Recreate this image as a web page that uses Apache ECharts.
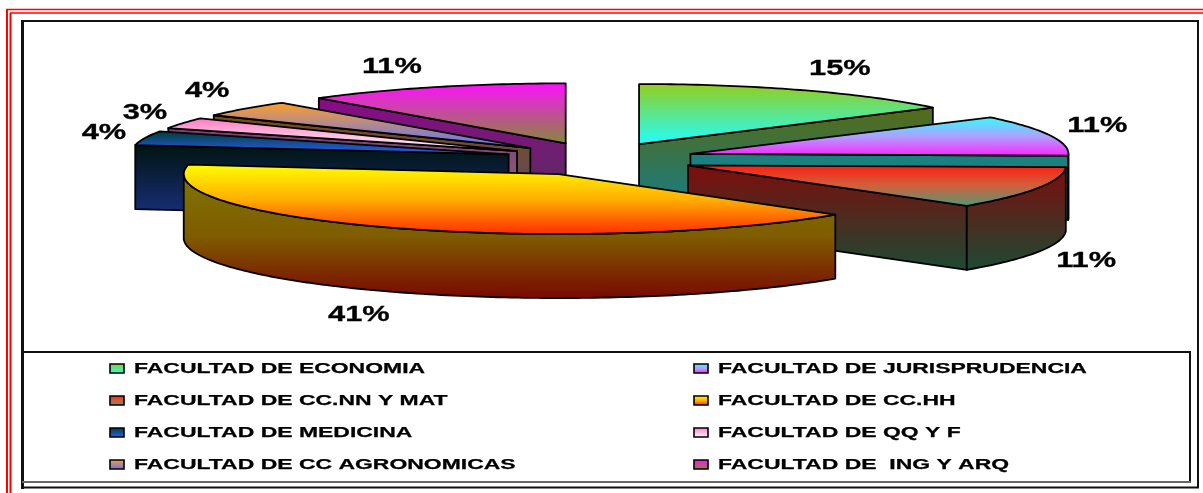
<!DOCTYPE html>
<html>
<head>
<meta charset="utf-8">
<style>html,body{margin:0;padding:0;background:#fff}#c{width:1203px;height:493px}</style>
<script src="https://cdn.jsdelivr.net/npm/echarts@6/dist/echarts.min.js"></script>
</head>
<body>
<div id="c"></div>
<script>
// ---- data ----
const faculties = ['FACULTAD DE ECONOMIA','FACULTAD DE JURISPRUDENCIA','FACULTAD DE CC.NN Y MAT','FACULTAD DE CC.HH',
  'FACULTAD DE MEDICINA','FACULTAD DE QQ Y F','FACULTAD DE CC AGRONOMICAS','FACULTAD DE  ING Y ARQ'];
const shares = [14.6, 10.9, 11.3, 40.7, 3.8, 2.9, 4.4, 11.4];

// ---- styles ----
const topColors = [['#96cc1c','#1effff'],['#30ffff','#b0a0ff','#ff20ff'],['#ff1c10','#d0603c','#4f9a78'],['#ffff00','#ffb000','#ff2a00'],
  ['#003a30','#2a62ff'],['#ff78c0','#ffffff'],['#ffa028','#5c70ff'],['#ff10ff','#858a36']];
const wallColors = [['#566a14','#157e88'],['#1b8080','#1b8080'],['#7e0c0c','#1c4a33'],['#807400','#7f5c00','#7a0800'],
  ['#001410','#1a3080'],['#803c78','#90707a'],['#7a4c10','#5a4a80'],['#8a0a88','#523258']];
const labelOffsets = [[37,-21],[47,-10],[48,73],[-37,87],[-41,-5],[-38,-10],[-38,-18],[-42,-20]];
const sliceNudgeX = [-3, 0, 0, 0, 0, 1, 2, -1];
const sliceRadiusX = [370, 378, 378, 375, 378, 378, 378, 376];

// ---- projection ----
const centerX = 600, centerY = 159, radiusY = 60, depth = 64, explodeX = 95, explodeY = 16.7;
const labelStretch = 1.4, legendStretch = 1.53;
const total = shares.reduce((a, b) => a + b, 0);
const rad = d => d * Math.PI / 180;

let running = 0;
const slices = shares.map((v, i) => {
  const a = running / total * 360; running += v;
  const b = running / total * 360, m = rad((a + b) / 2);
  return {a, b, rx: sliceRadiusX[i], cx: centerX + sliceNudgeX[i] + explodeX * Math.sin(m),
    cy: centerY - explodeY * Math.cos(m), mid: (a + b) / 2};
});
const rank = slices.map((s, i) => i).sort((p, q) => slices[p].cy - slices[q].cy);

const grad = cols => new echarts.graphic.LinearGradient(0, 0, 0, 1,
  cols.map((c, i) => ({offset: i / (cols.length - 1), color: c})));
const pt = (s, deg, h) => [s.cx + s.rx * Math.sin(rad(deg)), s.cy - radiusY * Math.cos(rad(deg)) + (h || 0)];
function arc(s, from, to, h) {
  const out = [], n = Math.max(2, Math.ceil(to - from));
  for (let k = 0; k <= n; k++) out.push(pt(s, from + (to - from) * k / n, h));
  return out;
}
const lineStyle = {stroke: '#000', lineWidth: 1.8, lineJoin: 'round'};
const poly = (points, cols) => ({type: 'polygon', silent: true, shape: {points},
  style: Object.assign({fill: grad(cols)}, lineStyle)});

function renderSlice(i, api) {
  const s = slices[i], kids = [];
  const apex = [s.cx, s.cy], apexB = [s.cx, s.cy + depth];
  const sideFace = deg => {
    const o = pt(s, deg), oB = pt(s, deg, depth);
    kids.push(poly([apex, o, oB, apexB], wallColors[i]));
  };
  if (s.a > 180) sideFace(s.a);
  if (s.b < 180) sideFace(s.b);
  const w0 = Math.max(s.a, 90), w1 = Math.min(s.b, 270);
  if (w1 > w0) kids.push(poly(arc(s, w0, w1).concat(arc(s, w0, w1, depth).reverse()), wallColors[i]));
  kids.push(poly([apex].concat(arc(s, s.a, s.b)), topColors[i]));

  // percentage label
  const m = rad(s.mid), off = labelOffsets[i];
  kids.push({type: 'text', silent: true, scaleX: labelStretch,
    x: s.cx + s.rx * Math.sin(m) + off[0], y: s.cy - radiusY * Math.cos(m) + off[1],
    style: {text: Math.round(shares[i] / total * 100) + '%', fill: '#000', stroke: '#000', lineWidth: 0.3,
      align: 'center', verticalAlign: 'middle', font: 'bold 22px "Liberation Sans", Arial, sans-serif'}});

  // legend row
  const col = i % 2, row = Math.floor(i / 2);
  const lx = col ? 694 : 110, ly = 368.5 + row * 32;
  kids.push({type: 'rect', silent: true, shape: {x: lx, y: ly - 4.5, width: 14, height: 9},
    style: {fill: grad(topColors[i]), stroke: '#000', lineWidth: 1.6}});
  kids.push({type: 'text', silent: true, scaleX: legendStretch, x: lx + 24, y: ly,
    style: {text: faculties[i], fill: '#000', stroke: '#000', lineWidth: 0.25, align: 'left', verticalAlign: 'middle',
      font: 'bold 15px "Liberation Sans", Arial, sans-serif'}});
  return {type: 'group', children: kids};
}

const line = (x1, y1, x2, y2, stroke, lineWidth) => ({type: 'line', silent: true, z: 100,
  shape: {x1, y1, x2, y2}, style: {stroke, lineWidth}});
const frame = [
  line(6, 9.5, 1203, 9.5, '#ff0000', 1.6), line(7, 9, 7, 493, '#ff0000', 2),
  line(10, 13, 1203, 13, '#ff0000', 1.6), line(10.5, 13, 10.5, 493, '#ff0000', 2),
  line(21, 21, 1199, 21, '#111', 2), line(22.5, 20, 22.5, 489, '#111', 3),
  line(1198, 21, 1198, 488, '#111', 2), line(21, 487.5, 1199, 487.5, '#111', 2.2),
  line(22, 352, 1191, 352, '#111', 2), line(1190, 351, 1190, 483, '#111', 2),
  line(22, 482, 1191, 482, '#666', 1.8)
];

const chart = echarts.init(document.getElementById('c'), null, {renderer: 'canvas'});
chart.setOption({
  animation: false,
  backgroundColor: '#fff',
  tooltip: {show: false},
  graphic: frame,
  series: faculties.map((name, i) => ({
    type: 'custom',
    name,
    coordinateSystem: 'none',
    z: 2 + rank.indexOf(i),
    silent: true,
    data: [shares[i]],
    renderItem: (params, api) => renderSlice(i, api)
  }))
});
</script>
</body>
</html>
